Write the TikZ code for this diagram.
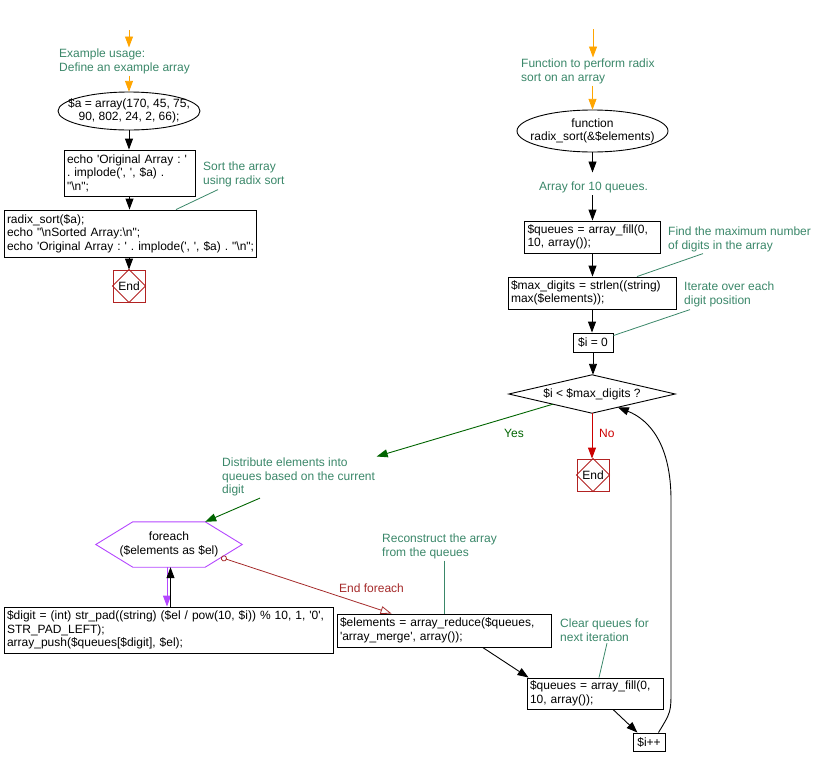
\documentclass[tikz,border=0pt]{standalone}
\usepackage{fontspec}
\newfontfamily\arial{Liberation Sans}
\usetikzlibrary{arrows.meta,calc}
\definecolor{cmt}{RGB}{58,135,105}
\definecolor{myorange}{RGB}{255,165,0}
\definecolor{endred}{RGB}{178,34,34}
\definecolor{nored}{RGB}{204,0,0}
\definecolor{efred}{RGB}{165,42,42}
\definecolor{yesgreen}{RGB}{0,100,0}
\definecolor{fepurple}{RGB}{180,70,255}
\begin{document}
\frenchspacing
\begin{tikzpicture}[x=1pt,y=-1pt,
  every node/.style={font=\arial\frenchspacing\fontsize{12}{13.5}\selectfont},
  box/.style={draw, line width=0.9pt, inner xsep=3pt, inner ysep=1pt, align=left},
  cbox/.style={draw, line width=0.9pt, inner sep=1pt, align=center},
  plain/.style={inner sep=0pt, align=center},
  cmtn/.style={text=cmt, inner sep=1.5pt, align=left, anchor=north west},
  arr/.style={line width=0.9pt, -{Triangle[length=11pt,width=8pt]}},
  oarr/.style={arr, draw=myorange},
  cline/.style={draw=cmt, line width=0.8pt},
  endb/.style={draw=endred, line width=0.9pt, minimum width=32pt, minimum height=32pt, inner sep=0pt},
  shapeline/.style={line width=0.9pt}
]
\useasboundingbox (0,0) rectangle (830,766);

% ---------- left column ----------
\coordinate (s1) at (129,30);
\node[cmtn] (c1) at (57.5,47.5) {Example usage:\\Define an example array};
\node[plain, minimum width=142pt, minimum height=38pt] (e1) at (129,111) {\$a = array(170, 45, 75,\\90, 802, 24, 2, 66);};
\draw[shapeline] (e1.center) ellipse [x radius=71pt, y radius=19pt];
\node[box, text width=125pt, minimum height=46pt] (b1) at (129.5,173) {echo 'Original Array : '\\. implode(', ', \$a) .\\"\textbackslash n";};
\node[box, text width=246pt, minimum height=47pt] (b2) at (130,233.5) {radix\_sort(\$a);\\echo "\textbackslash nSorted Array:\textbackslash n";\\\mbox{echo 'Original Array : ' . implode(', ', \$a) . "\textbackslash n";}};
\node[endb] (end1) at (129,286) {End};
\draw[endred, shapeline] (end1.north) -- (end1.east) -- (end1.south) -- (end1.west) -- cycle;
\node[cmtn] (c2) at (201.5,160.5) {Sort the array\\using radix sort};

\draw[oarr] (s1) -- (s1 |- c1.north);
\draw[oarr] (c1.south -| e1.north) -- (e1.north);
\draw[arr] (e1.south) -- (e1.south |- b1.north);
\draw[arr] (b1.south) -- (b1.south |- b2.north);
\draw[arr] (end1.north |- b2.south) -- (end1.north);
\draw[cline] ($(c2.south west)+(16.5,1)$) -- ($(b2.north)+(46,0)$);

% ---------- right column ----------
\coordinate (s2) at (593,29);
\node[cmtn] (c3) at (519.5,57.5) {Function to perform radix\\sort on an array};
\node[plain, minimum width=151pt, minimum height=42pt] (e2) at (592.5,131) {function\\radix\_sort(\&\$elements)};
\draw[shapeline] (e2.center) ellipse [x radius=75.5pt, y radius=21pt];
\node[text=cmt, inner sep=1.5pt, anchor=north] (c4) at (593.5,180.5) {Array for 10 queues.};
\node[box, text width=130pt, minimum height=32pt] (q1) at (592.5,237) {\$queues = array\_fill(0,\\10, array());};
\node[cmtn] (c5) at (666.5,225.5) {Find the maximum number\\of digits in the array};
\node[box, text width=162pt, minimum height=32pt] (md) at (592,293) {\$max\_digits = strlen((string)\\max(\$elements));};
\node[cmtn] (c6) at (682.5,280.5) {Iterate over each\\digit position};
\node[cbox, minimum width=40pt, minimum height=19pt] (i0) at (593,342.5) {\$i = 0};
\node[plain, minimum width=166pt, minimum height=38pt] (dia) at (592,394) {\$i < \$max\_digits ?};
\draw[shapeline] (dia.west) -- (dia.north) -- (dia.east) -- (dia.south) -- cycle;
\node[endb] (end2) at (593,475) {End};
\draw[endred, shapeline] (end2.north) -- (end2.east) -- (end2.south) -- (end2.west) -- cycle;
\node[text=nored, anchor=base west, inner sep=0pt] (nol) at (599,437) {No};
\node[text=yesgreen, anchor=base west, inner sep=0pt] (yesl) at (504,437) {Yes};

\draw[oarr] (s2) -- (s2 |- c3.north);
\draw[oarr] (c3.south -| e2.north) -- (e2.north);
\draw[arr] (e2.south) -- ($(e2.south |- c4.north)+(0,-8)$);
\draw[arr] (c4.south -| q1.north) -- (q1.north);
\draw[arr] (q1.south) -- (q1.south |- md.north);
\draw[cline] ($(c5.south west)+(36.5,0)$) -- ($(md.north)+(45,0)$);
\draw[arr] (md.south) -- (md.south |- i0.north);
\draw[cline] ($(c6.south west)+(7.5,1)$) -- ($(i0.north east)!0.15!(i0.south east)$);
\draw[arr] (i0.south) -- (i0.south |- dia.north);
\draw[arr, draw=nored] (dia.south) -- (dia.south |- end2.north);

% ---------- loop body ----------
\node[cmtn] (c7) at (220.5,456.5) {Distribute elements into\\queues based on the current\\digit};
\node[plain, minimum width=146pt, minimum height=45pt] (fe) at (169,544.5) {foreach\\(\$elements as \$el)};
\coordinate (fenw) at ($(fe.north west)+(37,0)$);
\coordinate (fene) at ($(fe.north east)+(-37,0)$);
\coordinate (fese) at ($(fe.south east)+(-37,0)$);
\coordinate (fesw) at ($(fe.south west)+(37,0)$);
\draw[fepurple, shapeline] (fe.west) -- (fenw) -- (fene) -- (fe.east) -- (fese) -- (fesw) -- cycle;
\node[box, text width=323pt, minimum height=46pt] (dg) at (168.5,630) {\mbox{\$digit = (int) str\_pad((string) (\$el / pow(10, \$i)) \% 10, 1, '0',}\\STR\_PAD\_LEFT);\\array\_push(\$queues[\$digit], \$el);};
\node[box, text width=208pt, minimum height=33pt] (el) at (444,630.5) {\$elements = array\_reduce(\$queues,\\'array\_merge', array());};
\node[text=efred, anchor=base west, inner sep=0pt] (efl) at (339,592) {End foreach};
\node[cmtn] (c9) at (380.5,532.5) {Reconstruct the array\\from the queues};
\node[cmtn] (c10) at (558.5,617.5) {Clear queues for\\next iteration};
\node[box, text width=130pt, minimum height=31pt] (q2) at (595,693.5) {\$queues = array\_fill(0,\\10, array());};
\node[cbox, minimum width=32pt, minimum height=18pt] (ipp) at (649,742) {\$i++};

\draw[arr, draw=yesgreen] ($(dia.west)!0.53!(dia.south)$) -- (c7.north east);
\draw[arr, draw=yesgreen] ($(c7.south west)+(39.5,0)$) -- (fene);
\coordinate (fp) at ($(fe.south)+(-2,0)$);
\coordinate (fb) at ($(fe.south)+(1.5,0)$);
\draw[arr, draw=fepurple] (fp) -- (fp |- dg.north);
\draw[arr] (fb |- dg.north) -- (fb);
\draw[efred, line width=0.8pt, {Circle[open,length=6pt,width=6pt]}-{Triangle[open,length=11pt,width=8pt]}] ($(fe.east)!0.57!(fese)$) -- ($(el.north west)+(55,0)$);
\draw[cline] (c9.south -| el.north) -- (el.north);
\draw[cline] ($(c10.south west)+(48.5,0)$) -- ($(q2.north)+(4,0)$);
\draw[arr] ($(el.south)!0.36!(el.south east)$) -- ($(q2.north west)+(2,0)$);
\draw[arr] ($(q2.south)+(18,0)$) -- ($(ipp.north west)!0.3!(ipp.north)$);
\draw[arr] ($(ipp.north east)+(-7,0)$) .. controls (671,712) .. (671,690) -- (671,500) .. controls (671,445) and (650,420) .. ($(dia.south)!0.31!(dia.east)$);
\end{tikzpicture}
\end{document}
